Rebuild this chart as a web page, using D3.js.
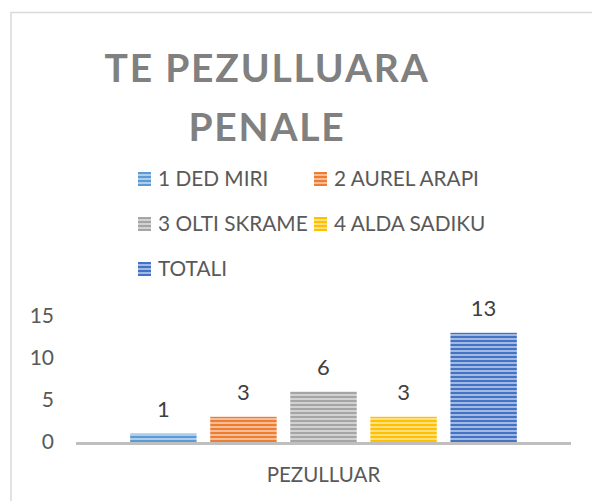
<!DOCTYPE html>
<meta charset="utf-8">
<style>
body { margin: 0; background: #fff; }
text { font-family: Lato, sans-serif; }
</style>
<body>
<svg width="592" height="501"></svg>
<script src="https://cdn.jsdelivr.net/npm/d3@7"></script>
<script>
var titleLines = ["TE PEZULLUARA", "PENALE"];
var categories = ["PEZULLUAR"];
var series = ["1 DED MIRI", "2 AUREL ARAPI", "3 OLTI SKRAME", "4 ALDA SADIKU", "TOTALI"];
var values = [1, 3, 6, 3, 13];
var colors = ["#5b9bd5", "#ed7d31", "#a5a5a5", "#ffc000", "#4472c4"];
var yTicks = [0, 5, 10, 15];

var svg = d3.select("svg");

// chart frame (only top and left edges show in the crop)
svg.append("path")
    .attr("d", "M11,501V12.5H592")
    .attr("fill", "none")
    .attr("stroke", "#d9d9d9")
    .attr("stroke-width", 1.5);

// striped fills
var defs = svg.append("defs");
colors.forEach(function(c, i) {
  var p = defs.append("pattern")
      .attr("id", "stripe" + i)
      .attr("patternUnits", "userSpaceOnUse")
      .attr("width", 4).attr("height", 4);
  p.append("rect").attr("width", 4).attr("height", 4)
      .attr("fill", d3.interpolateRgb(c, "#fff")(0.5));
  p.append("rect").attr("width", 4).attr("height", 2).attr("fill", c);
});

// title
svg.append("text")
    .attr("text-anchor", "middle")
    .attr("fill", "#808080")
    .style("font-weight", "bold")
    .style("font-size", "39px")
    .style("letter-spacing", "1.8px")
  .selectAll("tspan")
  .data(titleLines)
  .enter().append("tspan")
    .attr("x", 267)
    .attr("y", function(d, i) { return 82 + i * 59; })
    .text(function(d) { return d; });

// legend
var legend = svg.append("g").selectAll("g")
    .data(series)
    .enter().append("g")
    .attr("transform", function(d, i) {
      return "translate(" + (138 + (i % 2) * 176) + "," + (172 + Math.floor(i / 2) * 45) + ")";
    });
legend.append("rect")
    .attr("width", 13).attr("height", 14)
    .attr("fill", function(d, i) { return "url(#stripe" + i + ")"; });
legend.append("text")
    .attr("x", 20).attr("y", 14)
    .attr("fill", "#595959")
    .style("font-size", "20.8px")
    .text(function(d) { return d; });

// scales
var x0 = d3.scaleBand().domain(categories).range([76, 571]).paddingInner(0).paddingOuter(0.14);
var x1 = d3.scaleBand().domain(series).range([0, x0.bandwidth()]).paddingInner(0.17).paddingOuter(0);
var y = d3.scaleLinear().domain([0, 15]).range([442, 316]);

// y axis labels
var yAxis = svg.append("g")
    .attr("transform", "translate(54,0)")
    .call(d3.axisLeft(y).tickValues(yTicks).tickSize(0).tickPadding(0));
yAxis.select(".domain").remove();
yAxis.selectAll("text")
    .attr("fill", "#595959")
    .style("font-family", "Lato, sans-serif")
    .style("font-size", "21px");

// bars
var g = svg.append("g").selectAll("g")
    .data(categories)
    .enter().append("g")
    .attr("transform", function(d) { return "translate(" + x0(d) + ",0)"; });

g.selectAll("rect")
    .data(values)
    .enter().append("rect")
    .attr("x", function(d, i) { return x1(series[i]); })
    .attr("y", function(d) { return y(d); })
    .attr("width", x1.bandwidth())
    .attr("height", function(d) { return y(0) - y(d); })
    .attr("fill", function(d, i) { return "url(#stripe" + i + ")"; });

g.selectAll(".lbl")
    .data(values)
    .enter().append("text")
    .attr("class", "lbl")
    .attr("x", function(d, i) { return x1(series[i]) + x1.bandwidth() / 2; })
    .attr("y", function(d) { return y(d) - 17; })
    .attr("text-anchor", "middle")
    .attr("fill", "#404040")
    .style("font-size", "22px")
    .text(function(d) { return d; });

// x axis line
svg.append("line")
    .attr("x1", 76).attr("x2", 571)
    .attr("y1", y(0) + 1.5).attr("y2", y(0) + 1.5)
    .attr("stroke", "#bfbfbf")
    .attr("stroke-width", 3);

// category label
svg.selectAll(".cat")
    .data(categories)
    .enter().append("text")
    .attr("class", "cat")
    .attr("x", function(d) { return x0(d) + x0.bandwidth() / 2; })
    .attr("y", 482)
    .attr("text-anchor", "middle")
    .attr("fill", "#595959")
    .style("font-size", "20.5px")
    .text(function(d) { return d; });
</script>
</body>
